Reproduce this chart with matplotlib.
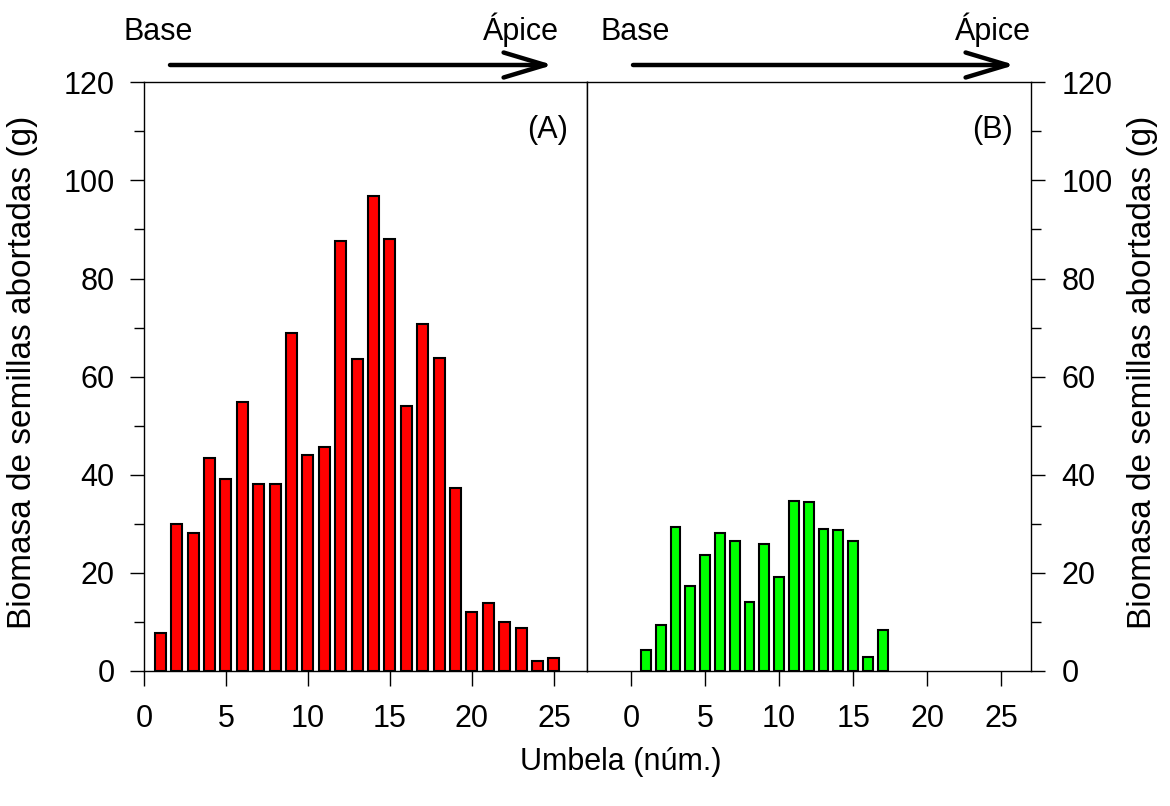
import matplotlib.pyplot as plt
from matplotlib.ticker import MultipleLocator

plt.rcParams['font.family'] = ['Liberation Sans', 'DejaVu Sans']

# datos
umbela_a = list(range(1, 26))
biomasa_a = [7.7, 30.0, 28.1, 43.4, 39.1, 54.8, 38.1, 38.1, 68.9, 44.1,
             45.7, 87.6, 63.5, 96.9, 88.1, 54.1, 70.8, 63.9, 37.4, 12.0,
             13.9, 10.0, 8.8, 2.1, 2.7]
umbela_b = list(range(1, 18))
biomasa_b = [4.3, 9.4, 29.4, 17.4, 23.7, 28.1, 26.6, 14.1, 25.8, 19.2,
             34.6, 34.4, 29.0, 28.8, 26.6, 2.9, 8.4]
xticks = [0, 5, 10, 15, 20, 25]
yticks = [0, 20, 40, 60, 80, 100, 120]

W, H = 1170, 806
fs = 22
fig = plt.figure(figsize=(W / 100, H / 100), dpi=100)


def box(x0, y0, x1, y1):
    # pixel box (from top-left) -> figure fraction
    return [x0 / W, 1 - y1 / H, (x1 - x0) / W, (y1 - y0) / H]


ax1 = fig.add_axes(box(144, 82.3, 586.7, 671))
ax2 = fig.add_axes(box(586.7, 82.3, 1030.7, 671))

ax1.bar(umbela_a, biomasa_a, width=0.67, color='#ff0000', edgecolor='black', linewidth=1.5)
ax2.bar(umbela_b, biomasa_b, width=0.65, color='#00ff00', edgecolor='black', linewidth=1.5)

ax1.set_xlim(0, 27)
ax2.set_xlim(-3, 27)
for ax in (ax1, ax2):
    ax.set_ylim(0, 120)
    ax.set_xticks(xticks)
    ax.set_yticks(yticks)
    ax.yaxis.set_minor_locator(MultipleLocator(10))
    for s in ax.spines.values():
        s.set_linewidth(1.0)
    ax.tick_params(axis='x', which='major', direction='out', length=10.5, width=1.0,
                   labelsize=fs, pad=13, top=False)
    ax.tick_params(axis='y', which='major', length=10, width=1.0, labelsize=fs)
    ax.tick_params(axis='y', which='minor', length=7.5, width=1.0)

ax1.tick_params(axis='y', which='both', direction='out', right=False, pad=11)
ax2.tick_params(axis='y', which='both', direction='out', left=False, right=True,
                labelleft=False, labelright=True, pad=12)

# rotulos
ylab = 'Biomasa de semillas abortadas (g)'
fig.text(23 / W, 1 - 372 / H, ylab, rotation=90, ha='center', va='center', fontsize=24)
fig.text(1143 / W, 1 - 372 / H, ylab, rotation=90, ha='center', va='center', fontsize=24)
fig.text(621 / W, 1 - 762 / H, 'Umbela (núm.)', ha='center', va='center', fontsize=fs)
fig.text(548 / W, 1 - 130 / H, '(A)', ha='center', va='center', fontsize=fs)
fig.text(993 / W, 1 - 130 / H, '(B)', ha='center', va='center', fontsize=fs)

# flechas base -> apice
for xb, xa, x0, x1 in [(158, 521, 170, 553), (635, 993, 633, 1015)]:
    fig.text(xb / W, 1 - 40 / H, 'Base', ha='center', va='baseline', fontsize=fs)
    fig.text(xa / W, 1 - 40 / H, 'Ápice', ha='center', va='baseline', fontsize=fs)
    ax1.annotate('', xy=(x1, H - 65), xytext=(x0, H - 65), xycoords='figure pixels',
                 textcoords='figure pixels', annotation_clip=False,
                 arrowprops=dict(arrowstyle='->,head_length=1.5,head_width=0.45',
                                 lw=3.2, color='black', shrinkA=0, shrinkB=0,
                                 mutation_scale=20))

fig.savefig('out.png', dpi=100)
